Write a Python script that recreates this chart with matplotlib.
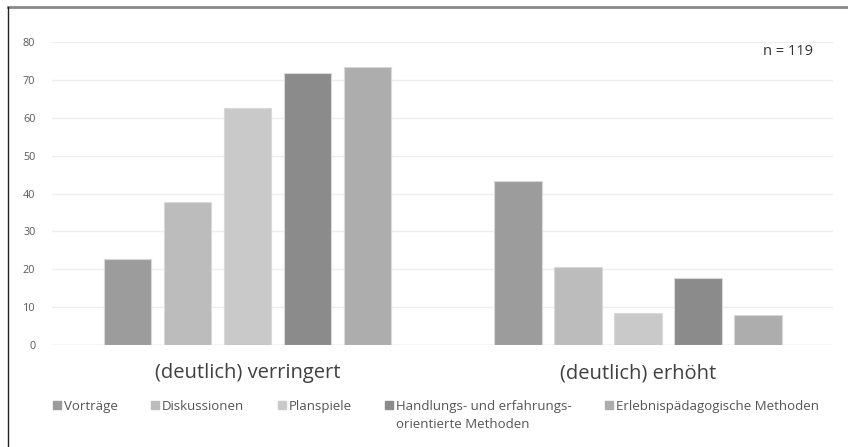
import numpy as np
import matplotlib.pyplot as plt
from matplotlib.lines import Line2D

plt.rcParams['font.family'] = ['Open Sans', 'DejaVu Sans']

# Daten (Prozent, n = 119)
kategorien = ['(deutlich) verringert', '(deutlich) erhöht']
methoden = ['Vorträge', 'Diskussionen', 'Planspiele',
            'Handlungs- und erfahrungs-\norientierte Methoden',
            'Erlebnispädagogische Methoden']
vortraege = [22.7, 43.3]
diskussionen = [37.8, 20.6]
planspiele = [62.7, 8.4]
handlungsorientiert = [71.8, 17.8]
erlebnispaedagogik = [73.5, 7.8]
werte = [vortraege, diskussionen, planspiele, handlungsorientiert, erlebnispaedagogik]
farben = ['#9c9c9c', '#bcbcbc', '#c9c9c9', '#8b8b8b', '#adadad']

fig = plt.figure(figsize=(8.48, 4.47), dpi=100)
ax = fig.add_axes([52 / 848, 1 - 345 / 447, (833 - 52) / 848, (345 - 42) / 447])

x = np.arange(len(kategorien))
step = 60 / 390.5
breite = 47.5 / 390.5
for i, (serie, farbe, name) in enumerate(zip(werte, farben, methoden)):
    ax.bar(x + (i - 2) * step, serie, breite, color=farbe, edgecolor='#d9d9d9',
           linewidth=0.8, label=name, zorder=3)

ax.set_xlim(-0.5, 1.5)
ax.set_ylim(0, 80)
ax.set_yticks(range(0, 81, 10))
ax.yaxis.grid(True, color='#eeeeee', linewidth=1, zorder=0)
for s in ax.spines.values():
    s.set_visible(False)
ax.axhline(0, color='#e0e0e0', linewidth=1, zorder=2)
ax.tick_params(axis='y', length=0, labelsize=7.8, labelcolor='#595959', pad=12)
ax.set_xticks(x)
ax.set_xticklabels(kategorien, fontsize=14.5, color='#404040')
ax.tick_params(axis='x', length=0, pad=13)

ax.text(0.975, 0.968, 'n = 119', transform=ax.transAxes, ha='right', va='center',
        fontsize=10.5, color='#333333')

handles = [Line2D([], [], marker='s', linestyle='', markersize=6, color=f) for f in farben]
leg = fig.legend(handles, methoden, loc='upper left', bbox_to_anchor=(48 / 848, 1 - 395 / 447),
                 ncol=5, frameon=False, fontsize=9.5, handlelength=0.6, handletextpad=0.2,
                 columnspacing=2.55, labelcolor='#555555', borderaxespad=0)
for t in leg.get_texts():
    t.set_linespacing(1.45)
# Einträge oben ausrichten (mehrzeiliges Label)
leg._legend_handle_box.align = 'top'
for spalte in leg._legend_handle_box.get_children():
    spalte.align = 'top'
    for eintrag in spalte.get_children():
        eintrag.align = 'top'

# Rahmenlinien oben und links
fig.add_artist(Line2D([8 / 848, 1], [1 - 7 / 447, 1 - 7 / 447], color='#888888',
                      linewidth=2, transform=fig.transFigure))
fig.add_artist(Line2D([8 / 848, 8 / 848], [0, 1 - 7 / 447], color='#222222',
                      linewidth=1, transform=fig.transFigure))

fig.savefig('out.png', dpi=100)
